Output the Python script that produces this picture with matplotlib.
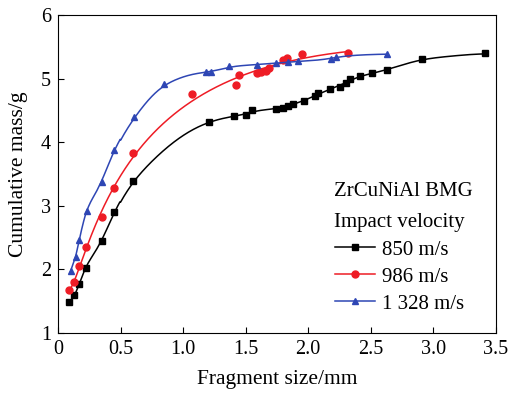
import numpy as np
import matplotlib.pyplot as plt

plt.rcParams['font.family'] = ['Liberation Serif', 'DejaVu Serif']

# Datos
x_850 = [0.09, 0.13, 0.17, 0.22, 0.35, 0.45, 0.60, 1.21, 1.41, 1.50, 1.55, 1.74, 1.80,
         1.84, 1.88, 1.97, 2.05, 2.08, 2.17, 2.25, 2.30, 2.33, 2.41, 2.51, 2.63, 2.91, 3.41]
y_850 = [1.48, 1.59, 1.77, 2.02, 2.45, 2.90, 3.39, 4.32, 4.41, 4.42, 4.50, 4.52, 4.53,
         4.57, 4.60, 4.65, 4.72, 4.77, 4.83, 4.87, 4.93, 4.99, 5.04, 5.08, 5.14, 5.30, 5.40]

x_986 = [0.09, 0.13, 0.17, 0.22, 0.35, 0.45, 0.60, 1.07, 1.42, 1.45, 1.59, 1.62, 1.66,
         1.69, 1.80, 1.83, 1.95, 2.32]
y_986 = [1.68, 1.80, 2.05, 2.35, 2.82, 3.28, 3.83, 4.75, 4.90, 5.06, 5.08, 5.10, 5.12,
         5.16, 5.29, 5.33, 5.38, 5.41]

x_1328 = [0.10, 0.14, 0.17, 0.23, 0.35, 0.45, 0.61, 0.85, 1.18, 1.22, 1.37, 1.59, 1.74,
          1.84, 1.92, 2.18, 2.22, 2.63]
y_1328 = [1.97, 2.20, 2.47, 2.92, 3.38, 3.88, 4.39, 4.91, 5.10, 5.10, 5.19, 5.22, 5.24,
          5.26, 5.27, 5.31, 5.34, 5.39]

# 'pchip' = curva que pasa por los puntos, 'ajuste' = polinomio en log(x)
series = [
    (x_850, y_850, 'black', 's', '850 m/s', 'pchip'),
    (x_986, y_986, '#ee1c25', 'o', '986 m/s', 'ajuste'),
    (x_1328, y_1328, '#2e46b4', '^', '1 328 m/s', 'pchip'),
]


def pchip(x, y, xx):
    # interpolación cúbica monótona (Fritsch-Carlson) solo para trazar la curva
    h = np.diff(x)
    d = np.diff(y) / h
    m = np.zeros_like(y)
    for k in range(1, len(x) - 1):
        if d[k - 1] * d[k] > 0:
            w1 = 2 * h[k] + h[k - 1]
            w2 = h[k] + 2 * h[k - 1]
            m[k] = (w1 + w2) / (w1 / d[k - 1] + w2 / d[k])
    m[0] = d[0]
    m[-1] = d[-1]
    i = np.clip(np.searchsorted(x, xx) - 1, 0, len(x) - 2)
    t = (xx - x[i]) / h[i]
    h00 = 2 * t**3 - 3 * t**2 + 1
    h10 = t**3 - 2 * t**2 + t
    h01 = -2 * t**3 + 3 * t**2
    h11 = t**3 - t**2
    return h00 * y[i] + h10 * h[i] * m[i] + h01 * y[i + 1] + h11 * h[i] * m[i + 1]


def suavizar(xx, yy, sigma, desde):
    # suavizado gaussiano de la curva (quita los quiebres), solo para x > desde
    w = np.exp(-0.5 * ((xx[:, None] - xx[None, :]) / sigma) ** 2)
    out = (w @ yy) / w.sum(axis=1)
    return np.where(xx > desde, out, yy)


fig = plt.figure(figsize=(5.15, 3.94), dpi=100)
ax = fig.add_axes([0.1126, 0.1548, 0.8504, 0.8072])

handles = []
for xs, ys, c, m, lab, modo in series:
    xs = np.array(xs)
    ys = np.array(ys)
    xx = np.linspace(xs.min(), xs.max(), 600)
    if modo == 'pchip':
        yy = pchip(xs, ys, xx)
        yy = suavizar(xx, yy, 0.04, 0.3)
        yy = suavizar(xx, yy, 0.07, 0.5)
    else:
        coef = np.polyfit(np.log(xs), ys, 4)
        yy = np.polyval(coef, np.log(xx))
    ax.plot(xx, yy, color=c, lw=1.1)
    ax.plot(xs, ys, ls='none', marker=m, color=c, ms=5)
    h, = ax.plot([], [], color=c, marker=m, ms=5, lw=1.1, label=lab)
    handles.append(h)

ax.set_xlim(0, 3.5)
ax.set_ylim(1, 6)
ax.set_xticks(np.arange(0, 3.51, 0.5))
ax.set_xticklabels(['0', '0.5', '1.0', '1.5', '2.0', '2.5', '3.0', '3.5'])
ax.set_yticks(range(1, 7))
ax.tick_params(direction='in', labelsize=14.5, length=4, pad=5)
ax.set_xlabel('Fragment size/mm', fontsize=15.5)
ax.set_ylabel('Cumulative mass/g', fontsize=15.5)
ax.xaxis.set_label_coords(0.5, -0.115)
ax.yaxis.set_label_coords(-0.068, 0.5)

fig.text(334 / 515, 1 - 192 / 394, 'ZrCuNiAl BMG', fontsize=15, va='center', ha='left')
fig.text(334 / 515, 1 - 222 / 394, 'Impact velocity', fontsize=15, va='center', ha='left')
fig.legend(handles=handles, loc='upper left', bbox_to_anchor=(335 / 515, 1 - 240 / 394),
           frameon=False, fontsize=15, borderpad=0, borderaxespad=0,
           handlelength=1.9, handletextpad=0.35, labelspacing=0.36)

fig.savefig('out.png', dpi=100)
